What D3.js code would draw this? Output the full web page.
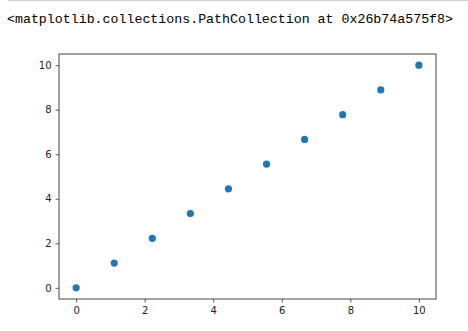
<!DOCTYPE html>
<html><head><meta charset="utf-8">
<script src="https://cdn.jsdelivr.net/npm/d3@7"></script>
<style>body{margin:0;background:#fff;}svg{display:block;}</style>
</head><body>
<script>
const xValues = [0, 1.1111, 2.2222, 3.3333, 4.4444, 5.5556, 6.6667, 7.7778, 8.8889, 10];
const yValues = [0, 1.1111, 2.2222, 3.3333, 4.4444, 5.5556, 6.6667, 7.7778, 8.8889, 10];
const xTicks = [0, 2, 4, 6, 8, 10];
const yTicks = [0, 2, 4, 6, 8, 10];
const outText = "<matplotlib.collections.PathCollection at 0x26b74a575f8>";

(function () {
const W = 468, H = 331;
const svg = d3.select("body").append("svg").attr("width", W).attr("height", H);

svg.append("line").attr("x1", 8).attr("x2", W).attr("y1", 0.5).attr("y2", 0.5)
  .attr("stroke", "#cfcfcf").attr("stroke-width", 1);

svg.append("text").attr("x", 7).attr("y", 23)
  .attr("font-family", "'Liberation Mono', 'DejaVu Sans Mono', monospace")
  .attr("font-size", 13.5).attr("fill", "#000")
  .attr("textLength", 446).attr("lengthAdjust", "spacingAndGlyphs")
  .text(outText);

const mL = 59, mR = 436, mT = 54, mB = 299;
const x = d3.scaleLinear().domain([-0.5, 10.5]).range([mL, mR]);
const y = d3.scaleLinear().domain([-0.5, 10.5]).range([mB, mT]);

const xAxis = svg.append("g").attr("transform", `translate(0,${mB})`)
  .call(d3.axisBottom(x).tickValues(xTicks).tickSize(3.5).tickPadding(4).tickFormat(d3.format("d")));
const yAxis = svg.append("g").attr("transform", `translate(${mL},0)`)
  .call(d3.axisLeft(y).tickValues(yTicks).tickSize(3.5).tickPadding(4).tickFormat(d3.format("d")));
[xAxis, yAxis].forEach(g => {
  g.select(".domain").remove();
  g.selectAll(".tick line").attr("stroke", "#333").attr("stroke-width", 0.8);
  g.selectAll(".tick text").attr("font-family", "'DejaVu Sans', sans-serif").attr("font-size", 10).attr("fill", "#222");
});

svg.append("rect").attr("x", mL).attr("y", mT).attr("width", mR - mL).attr("height", mB - mT)
  .attr("fill", "none").attr("stroke", "#444").attr("stroke-width", 1);

svg.append("g").selectAll("circle").data(xValues).join("circle")
  .attr("cx", d => x(d)).attr("cy", (d, i) => y(yValues[i])).attr("r", 3.6)
  .attr("fill", "#1f77b4");
})();
</script>
</body></html>
